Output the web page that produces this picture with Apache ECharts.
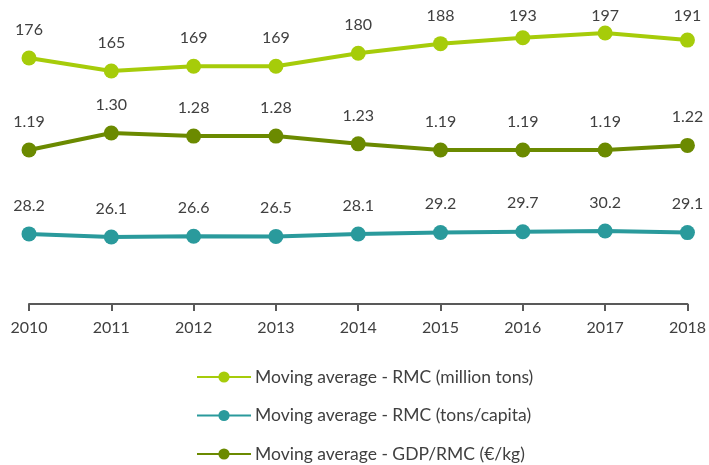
<!DOCTYPE html>
<html>
<head>
<meta charset="utf-8">
<script src="https://cdn.jsdelivr.net/npm/echarts@6/dist/echarts.min.js"></script>
<style>
  html, body { margin: 0; padding: 0; background: #fff; }
  #chart { width: 709px; height: 465px; }
</style>
</head>
<body>
<div id="chart"></div>
<script>
// years on the x axis
var years = ['2010', '2011', '2012', '2013', '2014', '2015', '2016', '2017', '2018'];
// moving average - RMC, million tons
var rmcTons = [176, 165, 169, 169, 180, 188, 193, 197, 191];
// moving average - RMC, tons per capita
var rmcCapita = [28.2, 26.1, 26.6, 26.5, 28.1, 29.2, 29.7, 30.2, 29.1];
// moving average - GDP/RMC, euro per kg
var gdpRmc = [1.19, 1.30, 1.28, 1.28, 1.23, 1.19, 1.19, 1.19, 1.22];

var textColor = '#404040';
var font = 'Lato';

function lineSeries(name, data, color, axis, decimals) {
    return {
        name: name,
        type: 'line',
        yAxisIndex: axis,
        data: data,
        symbol: 'circle',
        symbolSize: 15,
        lineStyle: { color: color, width: 4 },
        itemStyle: { color: color },
        label: {
            show: true,
            position: 'top',
            distance: 13,
            color: textColor,
            fontFamily: font,
            fontSize: 16,
            formatter: function (p) { return p.value.toFixed(decimals); }
        },
        // keep labels inside the top of the chart, like the original
        labelLayout: function (params) {
            var r = params.labelRect;
            if (r.y + r.height < 24) {
                return { x: r.x + r.width / 2, y: 24, align: 'center', verticalAlign: 'bottom' };
            }
            return {};
        },
        animation: false
    };
}

var chart = echarts.init(document.getElementById('chart'));
chart.setOption({
    backgroundColor: '#fff',
    grid: { left: 29, right: 19, top: 0, bottom: 161, containLabel: false },
    xAxis: {
        type: 'category',
        data: years,
        boundaryGap: false,
        axisLine: { onZero: false, lineStyle: { color: '#595959', width: 2 } },
        axisTick: { show: true, length: 7, lineStyle: { color: '#595959', width: 2 } },
        axisLabel: { color: textColor, fontFamily: font, fontSize: 16, margin: 16 },
        splitLine: { show: false }
    },
    yAxis: [
        { type: 'value', show: false, min: -30.8, max: 224.7, splitLine: { show: false } },
        { type: 'value', show: false, min: -19.8, max: 188.4, splitLine: { show: false } },
        { type: 'value', show: false, min: 0.197, max: 2.158, splitLine: { show: false } }
    ],
    legend: {
        orient: 'vertical',
        left: 196,
        top: 368,
        padding: 0,
        itemWidth: 54,
        itemHeight: 14,
        itemGap: 20.5,
        textStyle: { color: textColor, fontFamily: font, fontSize: 17.5, lineHeight: 17, padding: [0, 0, 0, -1] },
        data: [
            'Moving average - RMC (million tons)',
            'Moving average - RMC (tons/capita)',
            'Moving average - GDP/RMC (€/kg)'
        ]
    },
    series: [
        lineSeries('Moving average - RMC (million tons)', rmcTons, '#a6cc0a', 0, 0),
        lineSeries('Moving average - RMC (tons/capita)', rmcCapita, '#2a9a9c', 1, 1),
        lineSeries('Moving average - GDP/RMC (€/kg)', gdpRmc, '#6b8a00', 2, 2)
    ]
});
</script>
</body>
</html>
